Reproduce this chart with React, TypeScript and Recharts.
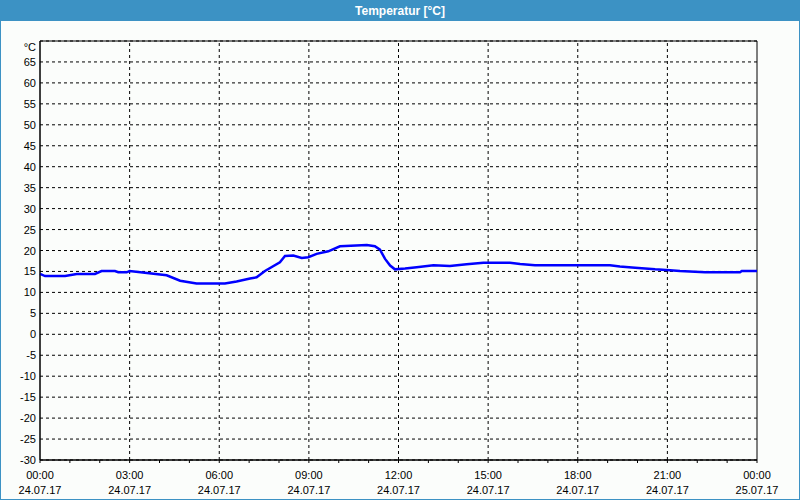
import { LineChart, Line, XAxis, YAxis, CartesianGrid, ReferenceLine, ReferenceArea } from "recharts";

// hours since 24.07.17 00:00
const hours = [
    0, 0.17, 0.84, 1.23, 1.84, 2.06, 2.51, 2.62, 2.9, 3.0, 3.51, 4.24, 4.69, 5.24, 6.19, 6.58,
    7.03, 7.25, 7.53, 8.03, 8.2, 8.48, 8.76, 8.98, 9.26, 9.65, 10.04, 10.94, 11.21, 11.38, 11.55,
    11.72, 11.88, 12.22, 12.61, 13.17, 13.72, 14.28, 14.84, 15.4, 15.73, 16.07, 16.57, 19.08,
    19.41, 19.92, 20.59, 21.09, 21.42, 22.26, 23.43, 23.49, 24,
];

const temps = [
    14.4, 13.9, 13.9, 14.4, 14.4, 15.1, 15.1, 14.8, 14.8, 15.1, 14.7, 14.1, 12.8, 12.1, 12.1, 12.6,
    13.3, 13.6, 15.1, 17.2, 18.7, 18.8, 18.2, 18.4, 19.2, 19.8, 21.0, 21.3, 21.0, 20.2, 18.0,
    16.4, 15.5, 15.7, 16.0, 16.5, 16.3, 16.7, 17.1, 17.1, 17.1, 16.8, 16.5, 16.5,
    16.2, 15.9, 15.5, 15.3, 15.1, 14.8, 14.8, 15.1, 15.1,
];

const hourTicks = [0, 1, 2, 3, 4, 5, 6, 7, 8, 9, 10, 11, 12, 13, 14, 15, 16, 17, 18, 19, 20, 21, 22, 23, 24];
const majorHours = [0, 3, 6, 9, 12, 15, 18, 21, 24];
const timeLabels = ["00:00", "03:00", "06:00", "09:00", "12:00", "15:00", "18:00", "21:00", "00:00"];
const dateLabels = ["24.07.17", "24.07.17", "24.07.17", "24.07.17", "24.07.17", "24.07.17", "24.07.17", "24.07.17", "25.07.17"];

const yTicks = [-30, -25, -20, -15, -10, -5, 0, 5, 10, 15, 20, 25, 30, 35, 40, 45, 50, 55, 60, 65, 70];

const data = hours.map((h, i) => ({ h, temp: temps[i] }));

const FONT = "'Liberation Sans', Arial, sans-serif";

const TimeTick = (props: any) => {
    const { x, y, payload } = props;
    const idx = majorHours.indexOf(payload.value);
    if (idx < 0) return <g />;
    return (
        <text x={x} y={y} textAnchor="middle" fill="#000" fontSize={11} fontFamily={FONT}>
            <tspan x={x} dy={14}>{timeLabels[idx]}</tspan>
            <tspan x={x} dy={15}>{dateLabels[idx]}</tspan>
        </text>
    );
};

// top tick shows the unit instead of 70
const TempTick = (props: any) => {
    const { x, y, payload } = props;
    const isUnit = payload.value === 70;
    return (
        <text x={x} y={y} dy={isUnit ? 10 : 4} textAnchor="end" fill="#000" fontSize={11} fontFamily={FONT}>
            {isUnit ? "°C" : String(payload.value)}
        </text>
    );
};

export default function App() {
    return (
        <div
            style={{
                position: "absolute",
                left: 0,
                top: 0,
                width: 800,
                height: 500,
                boxSizing: "border-box",
                border: "1px solid #3c92c4",
                background: "#fbfdfb",
                fontFamily: FONT,
            }}
        >
            <div
                style={{
                    height: 20,
                    background: "#3c92c4",
                    color: "#fff",
                    fontWeight: "bold",
                    fontSize: 12,
                    lineHeight: "20px",
                    textAlign: "center",
                }}
            >
                Temperatur [°C]
            </div>
            <div style={{ position: "absolute", left: -1, top: 19 }}>
                <LineChart width={800} height={480} data={data} margin={{ top: 21, right: 43, left: 0, bottom: 0 }}>
                    <CartesianGrid vertical={false} stroke="#000" strokeDasharray="3 3" />
                    {majorHours.slice(1, -1).map((h) => (
                        <ReferenceLine key={h} x={h} stroke="#000" strokeDasharray="3 3" />
                    ))}
                    <ReferenceArea x1={0} x2={24} y1={-30} y2={70} fill="none" stroke="#000" strokeWidth={1} />
                    <XAxis
                        dataKey="h"
                        type="number"
                        domain={[0, 24]}
                        ticks={hourTicks}
                        interval={0}
                        height={40}
                        stroke="#000"
                        tickSize={3}
                        tickMargin={2}
                        tick={<TimeTick />}
                    />
                    <YAxis
                        type="number"
                        domain={[-30, 70]}
                        ticks={yTicks}
                        interval={0}
                        width={40}
                        stroke="#000"
                        tickLine={false}
                        tickSize={0}
                        tickMargin={4}
                        tick={<TempTick />}
                    />
                    <Line
                        type="linear"
                        dataKey="temp"
                        stroke="#0000ff"
                        strokeWidth={2.5}
                        dot={false}
                        isAnimationActive={false}
                    />
                </LineChart>
            </div>
        </div>
    );
}
